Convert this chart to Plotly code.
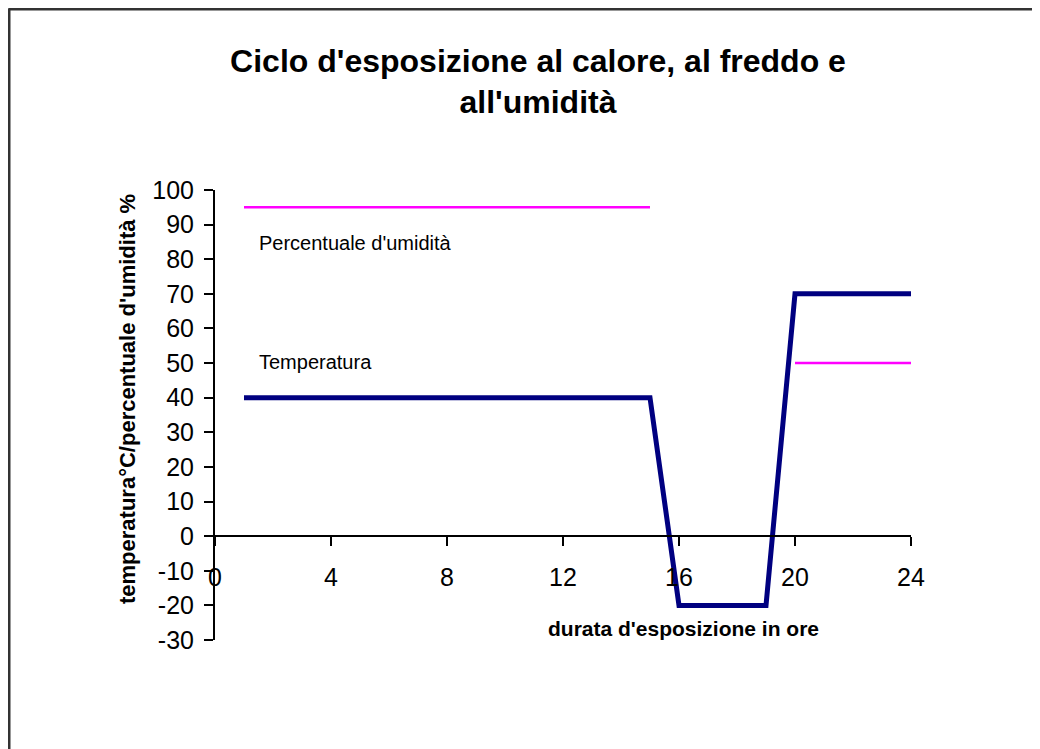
import plotly.graph_objects as go

# Data
hours_temp = [1, 15, 16, 19, 20, 24]
temperature = [40, 40, -20, -20, 70, 70]
hours_hum = [1, 15, None, 20, 24]
humidity = [95, 95, None, 50, 50]
x_ticks = [0, 4, 8, 12, 16, 20, 24]
y_ticks = list(range(-30, 101, 10))

title_text = "Ciclo d'esposizione al calore, al freddo e<br>all'umidità"
x_title = "durata d'esposizione in ore"
y_title = "temperatura°C/percentuale d'umidità %"

OFF = 8  # page body margin
W, H = 1040 - OFF, 749 - OFF
# target plot area on screen: x 215..911, y 190..640
L = 215 - OFF
T = 190 - OFF
R = W - (911 - OFF)
B = H - (640 - OFF)
pw, ph = W - L - R, H - T - B

def px_x(p):
    return (p - OFF - L) / pw

def px_y(p):
    return (H - B - (p - OFF)) / ph

FONT = "Liberation Sans, Arial, sans-serif"

fig = go.Figure()
fig.add_trace(go.Scatter(x=hours_hum, y=humidity, mode="lines",
                         line=dict(color="#FF00FF", width=2.5),
                         connectgaps=False, showlegend=False, hoverinfo="skip"))
fig.add_trace(go.Scatter(x=hours_temp, y=temperature, mode="lines",
                         line=dict(color="#000080", width=5),
                         showlegend=False, hoverinfo="skip"))

fig.update_layout(
    width=W, height=H,
    margin=dict(l=L, r=R, t=T, b=B, pad=0),
    paper_bgcolor="white", plot_bgcolor="white",
    font=dict(family=FONT, color="black"),
    showlegend=False,
    title=dict(text="<b>" + title_text + "</b>", x=(538 - OFF) / W, xanchor="center",
               xref="container", yref="container", y=1 - 63.5 / H, yanchor="middle",
               font=dict(size=32, family=FONT, color="black")),
    xaxis=dict(range=[0, 24], tickvals=x_ticks, ticktext=[str(v) for v in x_ticks],
               anchor="free", position=30 / 130, showgrid=False, zeroline=False,
               showline=True, linecolor="black", linewidth=2,
               ticks="outside", ticklen=9, tickwidth=2, tickcolor="black",
               tickfont=dict(size=25, family=FONT, color="black"),
               ticklabelstandoff=10, fixedrange=True),
    yaxis=dict(range=[-30, 100], tickvals=y_ticks, ticktext=[str(v) for v in y_ticks],
               showgrid=False, zeroline=False,
               showline=True, linecolor="black", linewidth=2,
               ticks="outside", ticklen=9, tickwidth=2, tickcolor="black",
               tickfont=dict(size=25, family=FONT, color="black"),
               ticklabelstandoff=5, fixedrange=True),
)

annotations = [
    dict(text="<b>" + x_title + "</b>", xref="paper", yref="paper",
         x=px_x(683), y=px_y(628), xanchor="center", yanchor="middle",
         showarrow=False, font=dict(size=21, family=FONT, color="black")),
    dict(text="<b>" + y_title + "</b>", xref="paper", yref="paper",
         x=px_x(127), y=px_y(399), xanchor="center", yanchor="middle", textangle=-90,
         showarrow=False, font=dict(size=22, family=FONT, color="black")),
    dict(text="Percentuale d'umidità", xref="paper", yref="paper",
         x=px_x(355), y=px_y(243), xanchor="center", yanchor="middle",
         showarrow=False, font=dict(size=20, family=FONT, color="black")),
    dict(text="Temperatura", xref="paper", yref="paper",
         x=px_x(315), y=px_y(362), xanchor="center", yanchor="middle",
         showarrow=False, font=dict(size=20, family=FONT, color="black")),
]
fig.update_layout(annotations=annotations)

# chart frame: only left and top edges are visible in the window
fig.add_shape(type="line", xref="paper", yref="paper",
              x0=px_x(OFF + 0.5), x1=px_x(W + 40), y0=px_y(OFF + 1), y1=px_y(OFF + 1),
              line=dict(color="#333333", width=3), layer="above")
fig.add_shape(type="line", xref="paper", yref="paper",
              x0=px_x(OFF + 1), x1=px_x(OFF + 1), y0=px_y(OFF + 0.5), y1=px_y(H + 60),
              line=dict(color="#333333", width=3), layer="above")

fig.write_html("out.html")
